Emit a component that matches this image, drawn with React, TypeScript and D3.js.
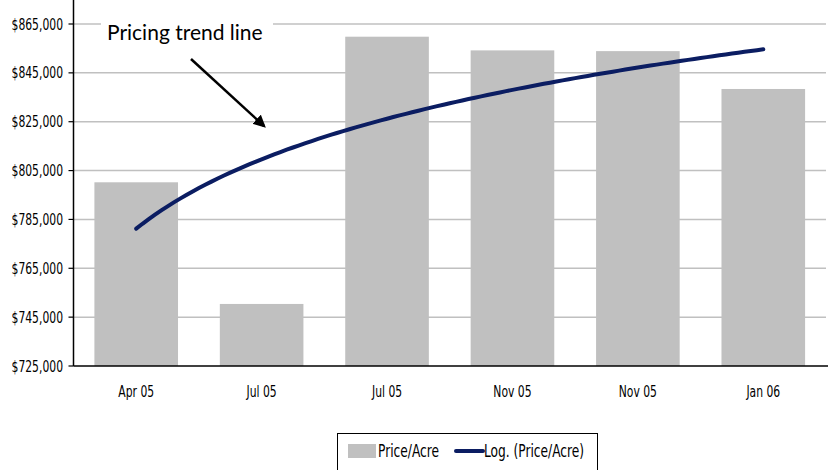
import * as React from 'react';
import * as d3 from 'd3';

const categories = ['Apr 05', 'Jul 05', 'Jul 05', 'Nov 05', 'Nov 05', 'Jan 06'];
const pricePerAcre = [800200, 750400, 859800, 854200, 853900, 838400];
const yTicks = [725000, 745000, 765000, 785000, 805000, 825000, 845000, 865000];

const W = 830;
const H = 470;
const left = 73.5;
const right = 826;
const top = 0;
const bottom = 366;
const labelFont = '"Liberation Sans Narrow", "DejaVu Sans Condensed", sans-serif';

// logarithmic least-squares fit, same as the spreadsheet trend line
const fitLog = (vals: number[]) => {
	const xs = vals.map((_, i) => Math.log(i + 1));
	const mx = d3.mean(xs)!;
	const my = d3.mean(vals)!;
	const sxy = d3.sum(xs, (x, i) => (x - mx) * (vals[i] - my));
	const sxx = d3.sum(xs, x => (x - mx) ** 2);
	const b = sxy / sxx;
	return { a: my - b * mx, b };
};

// condensed label: squeeze horizontally like the original narrow face
const Label = ({ x, y, anchor, size, children }) => (
	<text
		transform={`translate(${x},${y}) scale(0.8,1)`}
		textAnchor={anchor}
		fontFamily={labelFont}
		fontSize={size}
		fill='#000'
	>
		{children}
	</text>
);

export default function App() {
	const x = d3
		.scaleBand<number>()
		.domain(d3.range(categories.length))
		.range([left, right])
		.paddingInner(1 / 3)
		.paddingOuter(1 / 6);
	const y = d3.scaleLinear().domain([725000, 865000]).range([bottom, 24]);

	const { a, b } = fitLog(pricePerAcre);
	const xc = d3
		.scaleLinear()
		.domain([1, categories.length])
		.range([x(0)! + x.bandwidth() / 2, x(categories.length - 1)! + x.bandwidth() / 2]);
	const trendPts = d3.range(1, categories.length + 0.001, 0.05).map(t => [xc(t), y(a + b * Math.log(t))] as [number, number]);
	const line = d3.line().curve(d3.curveLinear);
	const fmt = d3.format('$,.0f');

	return (
		<svg width={W} height={H} style={{ position: 'absolute', left: 0, top: 0, background: '#fff' }}>
			{yTicks.slice(1).map(t => (
				<line key={t} x1={left} x2={right} y1={y(t)} y2={y(t)} stroke='#c0c0c0' strokeWidth={1.5} />
			))}
			{pricePerAcre.map((v, i) => (
				<rect key={i} x={x(i)} y={y(v)} width={x.bandwidth()} height={bottom - y(v)} fill='#c0c0c0' />
			))}
			<path d={line(trendPts)!} fill='none' stroke='#0b1d62' strokeWidth={4} strokeLinecap='round' />
			<line x1={left} x2={left} y1={top} y2={bottom} stroke='#000' strokeWidth={1.5} />
			<line x1={left} x2={right + 2} y1={bottom} y2={bottom} stroke='#000' strokeWidth={1.5} />
			{yTicks.map(t => (
				<g key={t}>
					<line x1={left - 5} x2={left} y1={y(t)} y2={y(t)} stroke='#000' strokeWidth={1.2} />
					<Label x={63} y={y(t) + 5.5} anchor='end' size={15}>
						{fmt(t)}
					</Label>
				</g>
			))}
			{categories.map((c, i) => (
				<Label key={i} x={x(i)! + x.bandwidth() / 2} y={397} anchor='middle' size={15}>
					{c}
				</Label>
			))}
			{/* annotation */}
			<rect x={101} y={14} width={172} height={34} fill='#fff' />
			<text x={107} y={40} fontFamily='Lato, "Open Sans", sans-serif' fontSize={21} fill='#000'>
				Pricing trend line
			</text>
			<defs>
				<marker id='arrow' viewBox='0 0 10 10' refX='8' refY='5' markerWidth='5' markerHeight='5' orient='auto-start-reverse'>
					<path d='M0,0 L10,5 L0,10 z' fill='#000' />
				</marker>
			</defs>
			<line x1={191} y1={59} x2={264} y2={126} stroke='#000' strokeWidth={2.5} markerEnd='url(#arrow)' />
			{/* legend */}
			<rect x={337.5} y={433.5} width={260} height={40} fill='#fff' stroke='#000' strokeWidth={1} />
			<rect x={348} y={444} width={28} height={14} fill='#c0c0c0' />
			<Label x={378} y={457} anchor='start' size={17}>
				Price/Acre
			</Label>
			<line x1={456} x2={483} y1={451} y2={451} stroke='#0b1d62' strokeWidth={4} strokeLinecap='round' />
			<Label x={484} y={457} anchor='start' size={17}>
				Log. (Price/Acre)
			</Label>
		</svg>
	);
}
